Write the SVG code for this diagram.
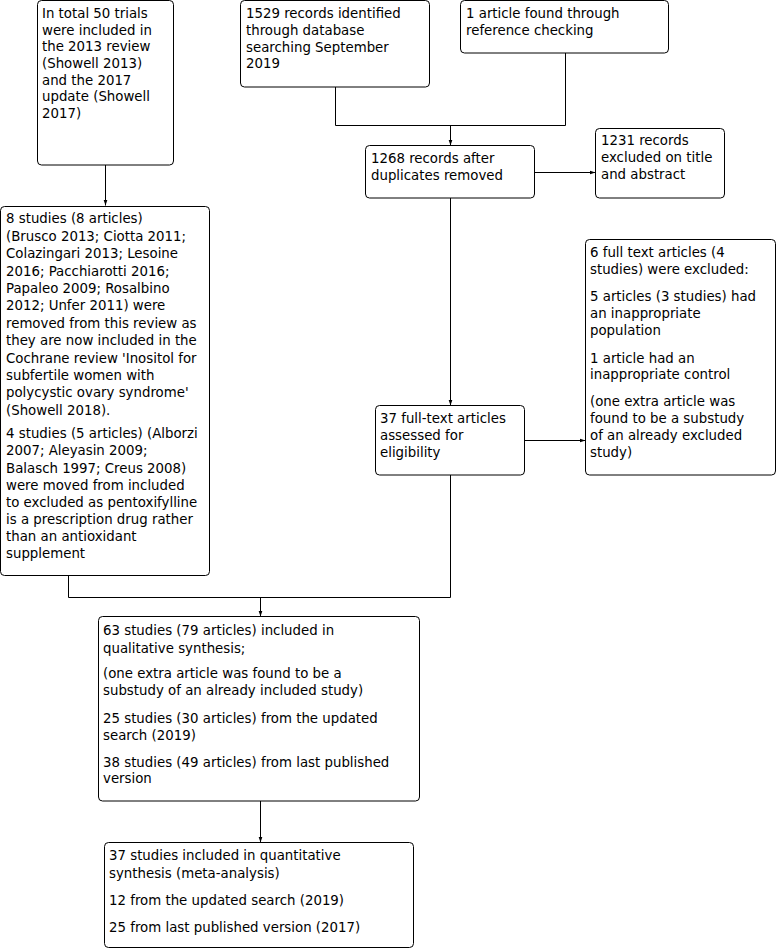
<svg xmlns="http://www.w3.org/2000/svg" width="777" height="950" viewBox="0 0 777 950">
<style>
.box{fill:#fff;stroke:#000;stroke-width:1}
.t{font-family:"DejaVu Sans",Verdana,sans-serif;font-size:13.33px;fill:#000}
.c{fill:none;stroke:#000;stroke-width:1}
</style>
<defs>
<marker id="ah" markerUnits="userSpaceOnUse" viewBox="0 0 6 6" refX="6" refY="3" markerWidth="6" markerHeight="6" orient="auto">
<path d="M0,1 L6,3 L0,5 z" fill="#000"/>
</marker>
</defs>
<g id="connectors">
<path class="c" d="M105.5,165 V205.5" marker-end="url(#ah)"/>
<path class="c" d="M335.5,87 V125.5 H565.5 V53"/>
<path class="c" d="M450.5,125.5 V145.5" marker-end="url(#ah)"/>
<path class="c" d="M534,172.5 H595.5" marker-end="url(#ah)"/>
<path class="c" d="M450.5,198 V405.5" marker-end="url(#ah)"/>
<path class="c" d="M524,440.5 H585.5" marker-end="url(#ah)"/>
<path class="c" d="M68.5,576 V597.5 H450.5 V475"/>
<path class="c" d="M260.5,597.5 V616.5" marker-end="url(#ah)"/>
<path class="c" d="M260.5,801 V842.5" marker-end="url(#ah)"/>
</g>
<g id="n1">
<rect class="box" x="37.5" y="0.5" width="136" height="164.5" rx="4"/>
<text class="t" x="42"><tspan x="42" y="18">In total 50 trials</tspan><tspan x="42" y="34.7">were included in</tspan><tspan x="42" y="51.3">the 2013 review</tspan><tspan x="42" y="68">(Showell 2013)</tspan><tspan x="42" y="84.7">and the 2017</tspan><tspan x="42" y="101.3">update (Showell</tspan><tspan x="42" y="118">2017)</tspan></text>
</g>
<g id="n2">
<rect class="box" x="240.5" y="0.5" width="189" height="86.5" rx="4"/>
<text class="t"><tspan x="246" y="18">1529 records identified</tspan><tspan x="246" y="35">through database</tspan><tspan x="246" y="51.7">searching September</tspan><tspan x="246" y="68.3">2019</tspan></text>
</g>
<g id="n3">
<rect class="box" x="460.5" y="0.5" width="208" height="52.5" rx="4"/>
<text class="t"><tspan x="466" y="18">1 article found through</tspan><tspan x="466" y="34.7">reference checking</tspan></text>
</g>
<g id="n4">
<rect class="box" x="365.5" y="145.5" width="169" height="52.5" rx="4"/>
<text class="t"><tspan x="371" y="163">1268 records after</tspan><tspan x="371" y="180">duplicates removed</tspan></text>
</g>
<g id="n5">
<rect class="box" x="595.5" y="128.5" width="129" height="69.5" rx="4"/>
<text class="t"><tspan x="601" y="145">1231 records</tspan><tspan x="601" y="162">excluded on title</tspan><tspan x="601" y="179">and abstract</tspan></text>
</g>
<g id="n6">
<rect class="box" x="0.5" y="206.5" width="209" height="369" rx="4"/>
<text class="t"><tspan x="6" y="223.3">8 studies (8 articles)</tspan><tspan x="6" y="240.7">(Brusco 2013; Ciotta 2011;</tspan><tspan x="6" y="258.1">Colazingari 2013; Lesoine</tspan><tspan x="6" y="275.5">2016; Pacchiarotti 2016;</tspan><tspan x="6" y="292.9">Papaleo 2009; Rosalbino</tspan><tspan x="6" y="310.3">2012; Unfer 2011) were</tspan><tspan x="6" y="327.7">removed from this review as</tspan><tspan x="6" y="345.1">they are now included in the</tspan><tspan x="6" y="362.5">Cochrane review 'Inositol for</tspan><tspan x="6" y="379.9">subfertile women with</tspan><tspan x="6" y="397.3">polycystic ovary syndrome'</tspan><tspan x="6" y="414.7">(Showell 2018).</tspan><tspan x="6" y="438.3">4 studies (5 articles) (Alborzi</tspan><tspan x="6" y="455.4">2007; Aleyasin 2009;</tspan><tspan x="6" y="472.5">Balasch 1997; Creus 2008)</tspan><tspan x="6" y="489.6">were moved from included</tspan><tspan x="6" y="506.7">to excluded as pentoxifylline</tspan><tspan x="6" y="523.8">is a prescription drug rather</tspan><tspan x="6" y="540.9">than an antioxidant</tspan><tspan x="6" y="558">supplement</tspan></text>
</g>
<g id="n7">
<rect class="box" x="375.5" y="405.5" width="149" height="69.5" rx="4"/>
<text class="t"><tspan x="380" y="423">37 full-text articles</tspan><tspan x="380" y="440">assessed for</tspan><tspan x="380" y="457">eligibility</tspan></text>
</g>
<g id="n8">
<rect class="box" x="585.5" y="239.5" width="190" height="235.5" rx="4"/>
<text class="t"><tspan x="590" y="257">6 full text articles (4</tspan><tspan x="590" y="274">studies) were excluded:</tspan><tspan x="590" y="300.7">5 articles (3 studies) had</tspan><tspan x="590" y="318">an inappropriate</tspan><tspan x="590" y="335">population</tspan><tspan x="590" y="362.5">1 article had an</tspan><tspan x="590" y="379.3">inappropriate control</tspan><tspan x="590" y="406">(one extra article was</tspan><tspan x="590" y="423">found to be a substudy</tspan><tspan x="590" y="440">of an already excluded</tspan><tspan x="590" y="457">study)</tspan></text>
</g>
<g id="n9">
<rect class="box" x="98.5" y="616.5" width="321" height="184.5" rx="4"/>
<text class="t"><tspan x="103" y="635">63 studies (79 articles) included in</tspan><tspan x="103" y="652.5">qualitative synthesis;</tspan><tspan x="103" y="678.3">(one extra article was found to be a</tspan><tspan x="103" y="695">substudy of an already included study)</tspan><tspan x="103" y="722.5">25 studies (30 articles) from the updated</tspan><tspan x="103" y="740">search (2019)</tspan><tspan x="103" y="766.5">38 studies (49 articles) from last published</tspan><tspan x="103" y="783.3">version</tspan></text>
</g>
<g id="n10">
<rect class="box" x="104.5" y="842.5" width="309" height="105" rx="4"/>
<text class="t"><tspan x="109" y="860">37 studies included in quantitative</tspan><tspan x="109" y="877.5">synthesis (meta-analysis)</tspan><tspan x="109" y="905">12 from the updated search (2019)</tspan><tspan x="109" y="932">25 from last published version (2017)</tspan></text>
</g>
</svg>
